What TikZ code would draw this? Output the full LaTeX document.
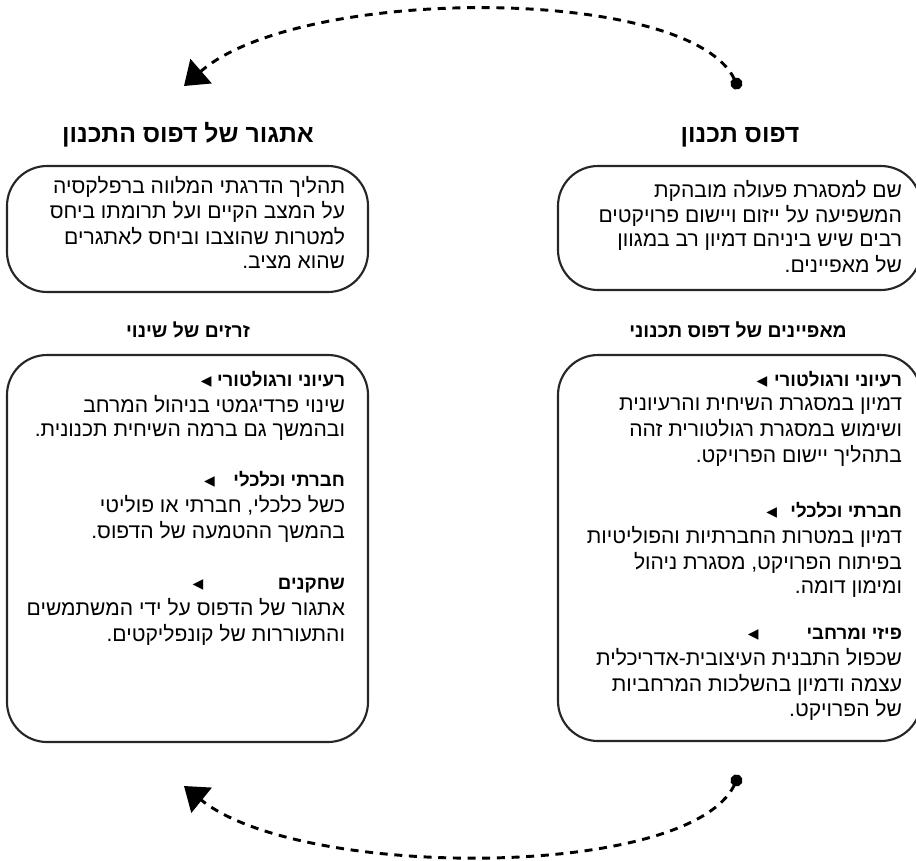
\documentclass[tikz,border=0pt]{standalone}
\usepackage{fontspec}
\setmainfont{Liberation Sans}
\newfontfamily\hebfont[Script=Hebrew]{Liberation Sans}
\newfontfamily\symfont{DejaVu Sans}
\TeXXeTstate=1
\usetikzlibrary{arrows.meta}
\newcommand*{\rl}[1]{\strut\beginR #1\endR}
\newcommand*{\pointer}[1]{\hspace{#1}\raisebox{-0.5pt}{\symfont\fontsize{16}{18}\selectfont ◂}}
\newcommand*{\itemhead}[2]{{\bfseries\fontsize{14}{18}\selectfont\rl{#1\pointer{#2}}}}
\tikzstyle{base}=[inner sep=0pt, outer sep=0pt]
\tikzstyle{title}=[base, anchor=base, font=\hebfont\bfseries\fontsize{18.6}{20}\selectfont]
\tikzstyle{subtitle}=[base, anchor=base, font=\hebfont\bfseries\fontsize{14.5}{16}\selectfont]
\tikzstyle{bubble}=[draw=black!85, line width=1.6pt, rounded corners=30pt]
\tikzstyle{body}=[base, anchor=north east, align=right, font=\hebfont\fontsize{15.8}{18}\selectfont]
\tikzstyle{cycle}=[line width=2.2pt, dash pattern=on 6pt off 5pt, {Circle[length=9pt]}-{Triangle[length=17pt,width=24pt]}]

\begin{document}
\begin{tikzpicture}[x=0.75pt, y=-0.75pt]
    \clip (0,0) rectangle (916,860);
    \path [use as bounding box] (0,0) rectangle (916,860);

    \draw [bubble] (558,166) rectangle (921,290);
    \draw [bubble] (7,166) rectangle (368,292);
    \draw [bubble] (558,355) rectangle (921,741);
    \draw [bubble] (7,355) rectangle (368,742);

    \node [title] (plantitle) at (740,142) {\rl{דפוס תכנון}};
    \node [title] (challengetitle) at (188,142) {\rl{אתגור של דפוס התכנון}};
    \node [subtitle] (traitsub) at (738,337) {\rl{מאפיינים של דפוס תכנוני}};
    \node [subtitle] (triggersub) at (188,337) {\rl{זרזים של שינוי}};

    \node [body] (plantext) at (902,180) {\rl{שם למסגרת פעולה מובהקת}\\
        \rl{המשפיעה על ייזום ויישום פרויקטים}\\
        \rl{רבים שיש ביניהם דמיון רב במגוון}\\
        \rl{של מאפיינים.}};
    \node [body] (challengetext) at (345,176) {\rl{תהליך הדרגתי המלווה ברפלקסיה}\\
        \rl{על המצב הקיים ועל תרומתו ביחס}\\
        \rl{למטרות שהוצבו וביחס לאתגרים}\\
        \rl{שהוא מציב.}};

    \node [body] (trait1) at (902,370) {\itemhead{רעיוני ורגולטורי}{5pt}\\
        \rl{דמיון במסגרת השיחית והרעיונית}\\
        \rl{ושימוש במסגרת רגולטורית זהה}\\
        \rl{בתהליך יישום הפרויקט.}};
    \node [body] (trait2) at (902,501) {\itemhead{חברתי וכלכלי}{10pt}\\
        \rl{דמיון במטרות החברתיות והפוליטיות}\\
        \rl{בפיתוח הפרויקט, מסגרת ניהול}\\
        \rl{ומימון דומה.}};
    \node [body] (trait3) at (902,623) {\itemhead{פיזי ומרחבי}{36pt}\\
        \rl{שכפול התבנית העיצובית-אדריכלית}\\
        \rl{עצמה ודמיון בהשלכות המרחביות}\\
        \rl{של הפרויקט.}};

    \node [body] (trigger1) at (345,370) {\itemhead{רעיוני ורגולטורי}{4pt}\\
        \rl{שינוי פרדיגמטי בניהול המרחב}\\
        \rl{ובהמשך גם ברמה השיחית תכנונית.}};
    \node [body] (trigger2) at (345,470) {\itemhead{חברתי וכלכלי}{14pt}\\
        \rl{כשל כלכלי, חברתי או פוליטי}\\
        \rl{בהמשך ההטמעה של הדפוס.}};
    \node [body] (trigger3) at (345,573) {\itemhead{שחקנים}{56pt}\\
        \rl{אתגור של הדפוס על ידי המשתמשים}\\
        \rl{והתעוררות של קונפליקטים.}};

    \coordinate (planstart) at (739,89);
    \coordinate (planend) at (184,86);
    \coordinate (backstart) at (739,775);
    \coordinate (backend) at (184,786);
    \draw [cycle] (planstart) .. controls (690,-15) and (300,-15) .. (planend);
    \draw [cycle] (backstart) .. controls (690,880) and (300,880) .. (backend);
\end{tikzpicture}
\end{document}
